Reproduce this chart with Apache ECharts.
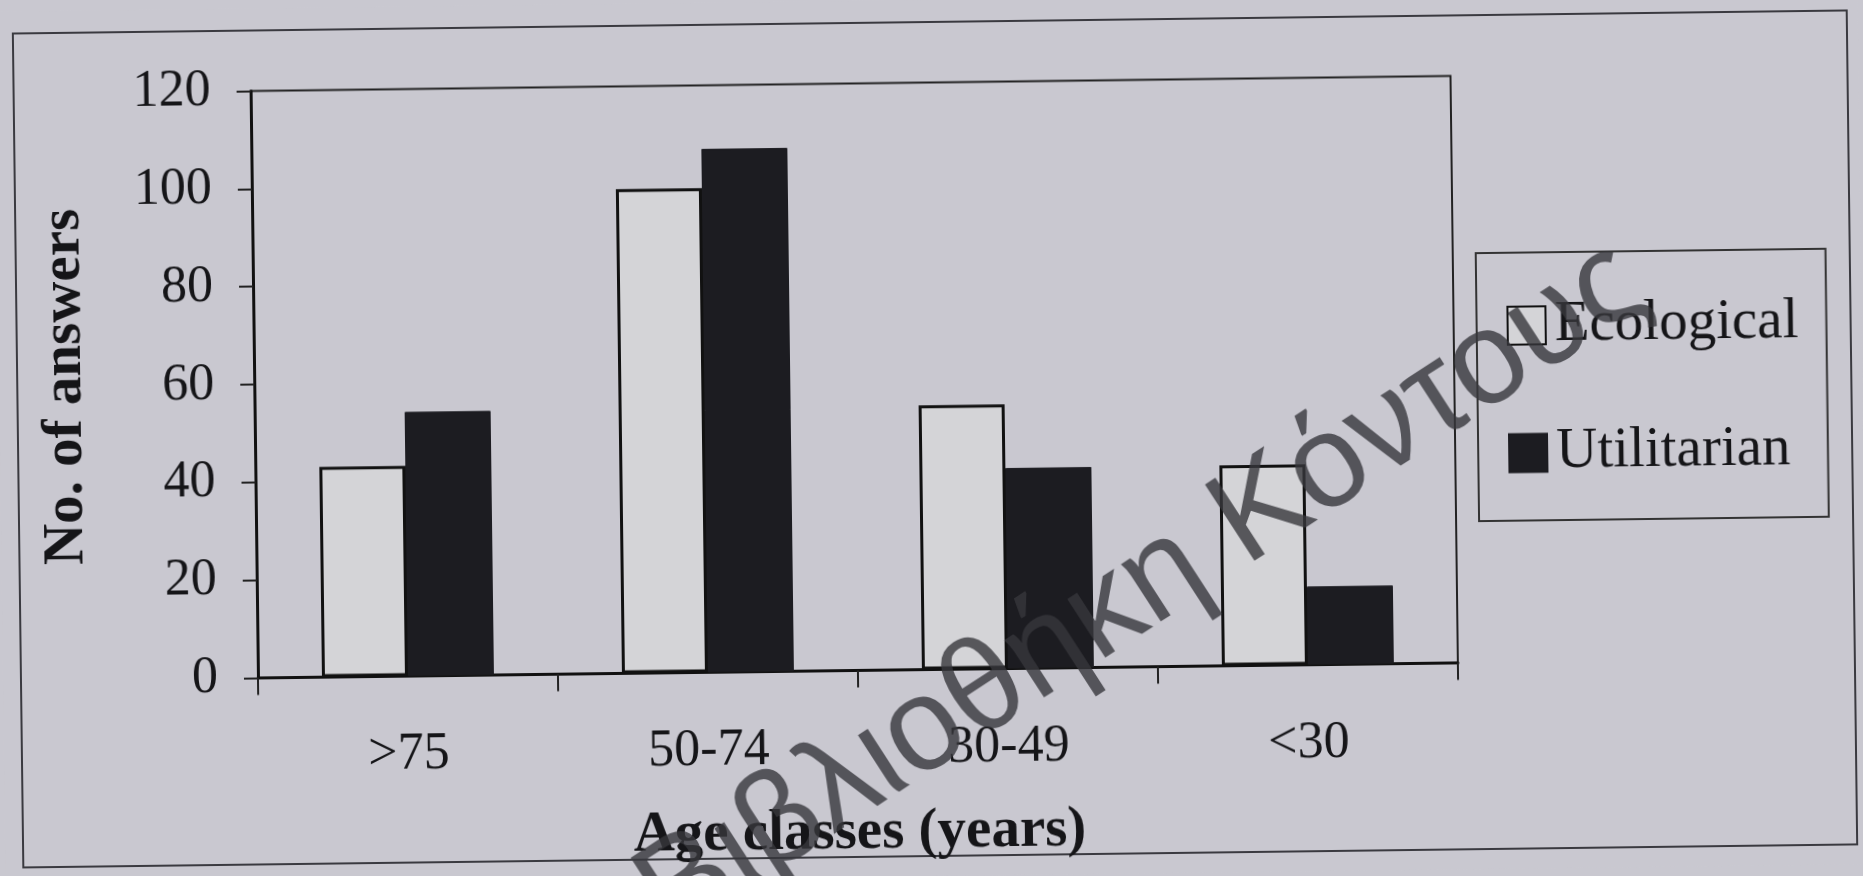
<!DOCTYPE html>
<html>
<head>
<meta charset="utf-8">
<title>No. of answers by age class</title>
<script src="https://cdn.jsdelivr.net/npm/echarts@6/dist/echarts.min.js"></script>
<style>
  html, body { margin: 0; padding: 0; background: #c9c8d0; overflow: hidden; }
  #chart { width: 1863px; height: 876px; transform: rotate(-0.72deg); transform-origin: 50% 50%; }
</style>
</head>
<body>
<div id="chart"></div>
<script>
// Age classes on the category axis
const categories = ['>75', '50-74', '30-49', '<30'];
// Number of answers per motivation type
const ecological = [43, 99, 54, 41];
const utilitarian = [54, 107, 41, 16];
// Value axis range
const yMin = 0;
const yMax = 120;
const yStep = 20;

const serif = '"Liberation Serif", "Times New Roman", serif';
const ink = '#151518';

const chart = echarts.init(document.getElementById('chart'), null, { renderer: 'canvas' });

chart.setOption({
  backgroundColor: '#c9c8d0',
  animation: false,
  textStyle: { fontFamily: serif, color: ink },
  grid: {
    left: 255, top: 82.5, width: 1200, height: 587,
    show: true, borderColor: '#222', borderWidth: 2, backgroundColor: 'transparent'
  },
  legend: {
    orient: 'vertical',
    left: 1478, top: 260,
    padding: [43, 28, 37.5, 30],
    itemGap: 67.5,
    itemWidth: 38, itemHeight: 38,
    icon: 'rect',
    borderColor: '#333', borderWidth: 2,
    textStyle: { fontFamily: serif, fontSize: 57, lineHeight: 60, color: ink, padding: [0, 0, 0, 4] },
    data: ['Ecological', 'Utilitarian']
  },
  xAxis: {
    type: 'category',
    data: categories,
    name: 'Age classes (years)',
    nameLocation: 'middle',
    nameGap: 134,
    nameTextStyle: { fontFamily: serif, fontSize: 57, fontWeight: 'bold', color: ink },
    axisLine: { show: true, lineStyle: { color: '#111', width: 3 } },
    axisTick: { show: true, length: 17, lineStyle: { color: '#222', width: 2 } },
    axisLabel: { fontFamily: serif, fontSize: 52, color: ink, margin: 53 },
    splitLine: { show: false }
  },
  yAxis: {
    type: 'value',
    min: yMin, max: yMax, interval: yStep,
    name: 'No. of answers',
    nameLocation: 'middle',
    nameGap: 160,
    nameTextStyle: { fontFamily: serif, fontSize: 57, fontWeight: 'bold', color: ink },
    axisLine: { show: true, lineStyle: { color: '#111', width: 3 } },
    axisTick: { show: true, length: 14, lineStyle: { color: '#222', width: 2 } },
    axisLabel: { fontFamily: serif, fontSize: 52, color: ink, margin: 40 },
    splitLine: { show: false }
  },
  series: [
    {
      name: 'Ecological',
      type: 'bar',
      data: ecological,
      barWidth: 86,
      barGap: '0%',
      itemStyle: { color: '#d4d4d7', borderColor: '#111', borderWidth: 3 }
    },
    {
      name: 'Utilitarian',
      type: 'bar',
      data: utilitarian,
      barWidth: 86,
      barGap: '0%',
      itemStyle: { color: '#1c1c21', borderColor: '#1c1c21', borderWidth: 1 }
    }
  ],
  graphic: [
    {
      type: 'rect',
      silent: true,
      z: -1,
      shape: { x: 18, y: 22, width: 1834, height: 834 },
      style: { fill: 'none', stroke: '#3a3a40', lineWidth: 2 }
    },
    {
      type: 'text',
      silent: true,
      z: 100,
      x: 1140, y: 593,
      rotation: 32.3 * Math.PI / 180,
      style: {
        text: 'Βιβλιοθήκη Κόντους',
        fontFamily: '"Liberation Sans", Arial, sans-serif',
        fontSize: 132,
        fill: 'rgba(55,55,60,0.8)',
        align: 'center',
        verticalAlign: 'middle'
      }
    }
  ]
});
</script>
</body>
</html>
